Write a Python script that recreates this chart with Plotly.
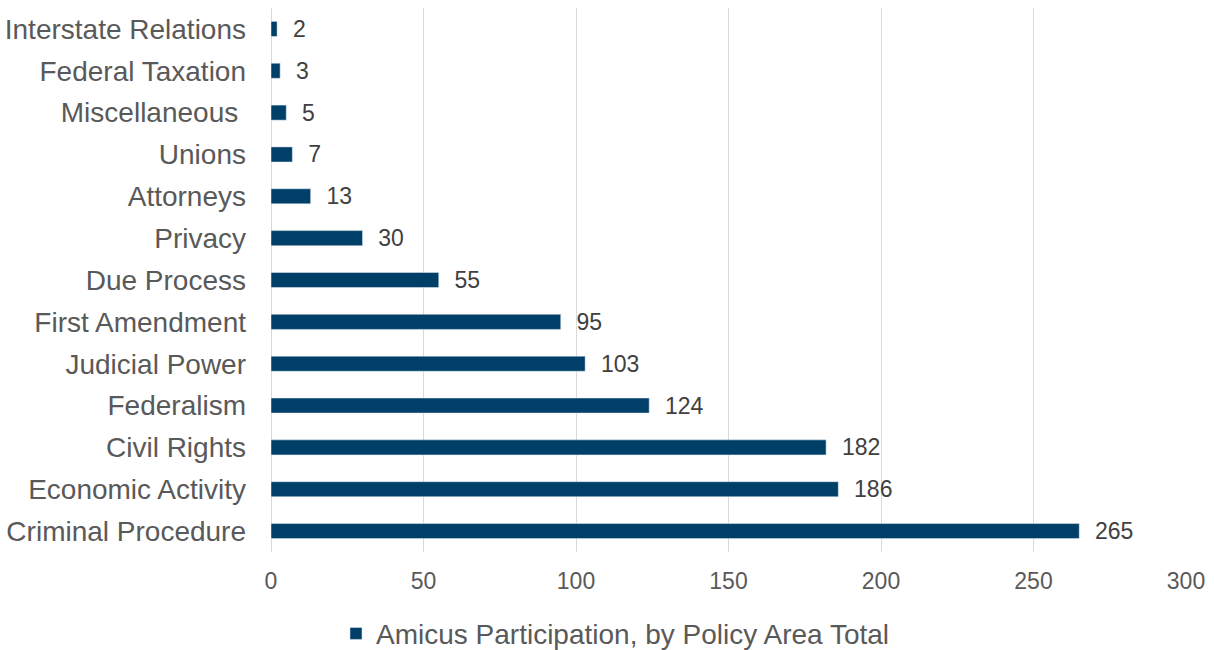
import plotly.graph_objects as go

categories = ["Criminal Procedure", "Economic Activity", "Civil Rights", "Federalism",
              "Judicial Power", "First Amendment", "Due Process", "Privacy",
              "Attorneys", "Unions", "Miscellaneous ", "Federal Taxation",
              "Interstate Relations"]
values = [265, 186, 182, 124, 103, 95, 55, 30, 13, 7, 5, 3, 2]
x_ticks = [0, 50, 100, 150, 200, 250, 300]
series_name = "Amicus Participation, by Policy Area Total"

fig = go.Figure()
fig.add_trace(go.Bar(
    y=categories, x=values, orientation="h", name=series_name,
    marker=dict(color="#004068"),
    text=["  " + str(v) for v in values], textposition="outside",
    constraintext="none",
    textfont=dict(size=23, color="#404040", family="Liberation Sans, Arial"),
    cliponaxis=False,
))
fig.update_layout(
    width=1214, height=650,
    margin=dict(l=271, r=28, t=8, b=98),
    paper_bgcolor="white", plot_bgcolor="white",
    bargap=0.64,
    font=dict(family="Liberation Sans, Arial", color="#595959"),
    xaxis=dict(range=[0, 300], tickvals=x_ticks, showgrid=True, gridcolor="#d9d9d9",
               gridwidth=1.3, zeroline=True, zerolinecolor="#d9d9d9", zerolinewidth=1.3,
               tickfont=dict(size=23, color="#595959"), ticks="", showline=False,
               ticklabelstandoff=13, automargin=False),
    yaxis=dict(tickfont=dict(size=28, color="#595959"), ticks="", showgrid=False,
               ticklabelstandoff=24, automargin=False),
    showlegend=True,
    legend=dict(orientation="h", xref="container", x=0.507, xanchor="center",
                yref="container", y=0.025, yanchor="middle",
                font=dict(size=28, color="#595959")),
)
fig.write_html("out.html")
